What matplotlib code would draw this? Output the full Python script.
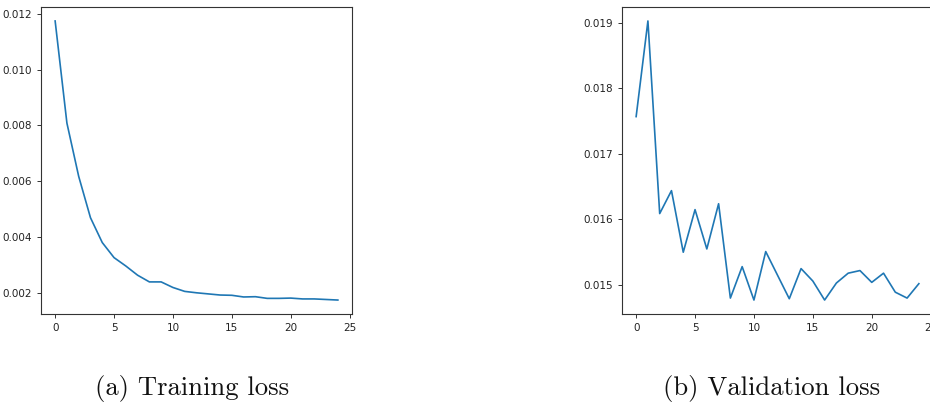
import matplotlib
matplotlib.use("Agg")
import matplotlib.pyplot as plt

epochs = list(range(25))

train_loss = [0.01174, 0.00808, 0.00617, 0.00469, 0.00380, 0.00326, 0.00296,
              0.00263, 0.00239, 0.00239, 0.00219, 0.00205, 0.00200, 0.00196,
              0.00192, 0.00191, 0.00185, 0.00186, 0.00180, 0.00180, 0.00181,
              0.00178, 0.00178, 0.00176, 0.00174]

val_loss = [0.01757, 0.01903, 0.01609, 0.01644, 0.01550, 0.01615, 0.01555,
            0.01624, 0.01480, 0.01528, 0.01477, 0.01551, 0.01515, 0.01479,
            0.01525, 0.01506, 0.01477, 0.01503, 0.01518, 0.01522, 0.01504,
            0.01518, 0.01489, 0.01480, 0.01502]

captions = ["(a) Training loss", "(b) Validation loss"]
train_ticks = [0.002, 0.004, 0.006, 0.008, 0.010, 0.012]
val_ticks = [0.015, 0.016, 0.017, 0.018, 0.019]

W, H = 930, 403
fig = plt.figure(figsize=(W / 100, H / 100), dpi=100)

def px_axes(left, top, right, bottom):
    return fig.add_axes([left / W, 1 - bottom / H, (right - left) / W, (bottom - top) / H])

ax1 = px_axes(41, 7, 352, 314)
ax2 = px_axes(622, 7, 933, 314)

for ax, y, ticks, cap, cx in [(ax1, train_loss, train_ticks, captions[0], 192),
                              (ax2, val_loss, val_ticks, captions[1], 772)]:
    ax.plot(epochs, y, color="#1f77b4", linewidth=1.2)
    ax.set_xticks([0, 5, 10, 15, 20, 25])
    ax.set_yticks(ticks)
    ax.set_yticklabels([f"{t:.3f}" for t in ticks])
    ax.tick_params(labelsize=7.5, length=3, width=0.7, colors="#333333", labelcolor="#222222")
    for s in ax.spines.values():
        s.set_linewidth(0.8)
        s.set_color("#333333")
    fig.text(cx / W, 1 - 388 / H, cap, ha="center", va="center",
             fontsize=19.2, family="cmr10", color="#111111")

ax1.set_xlim(-1.2, 25.2)
ax2.set_xlim(-1.2, 25.2)

fig.savefig("out.png", dpi=100)
